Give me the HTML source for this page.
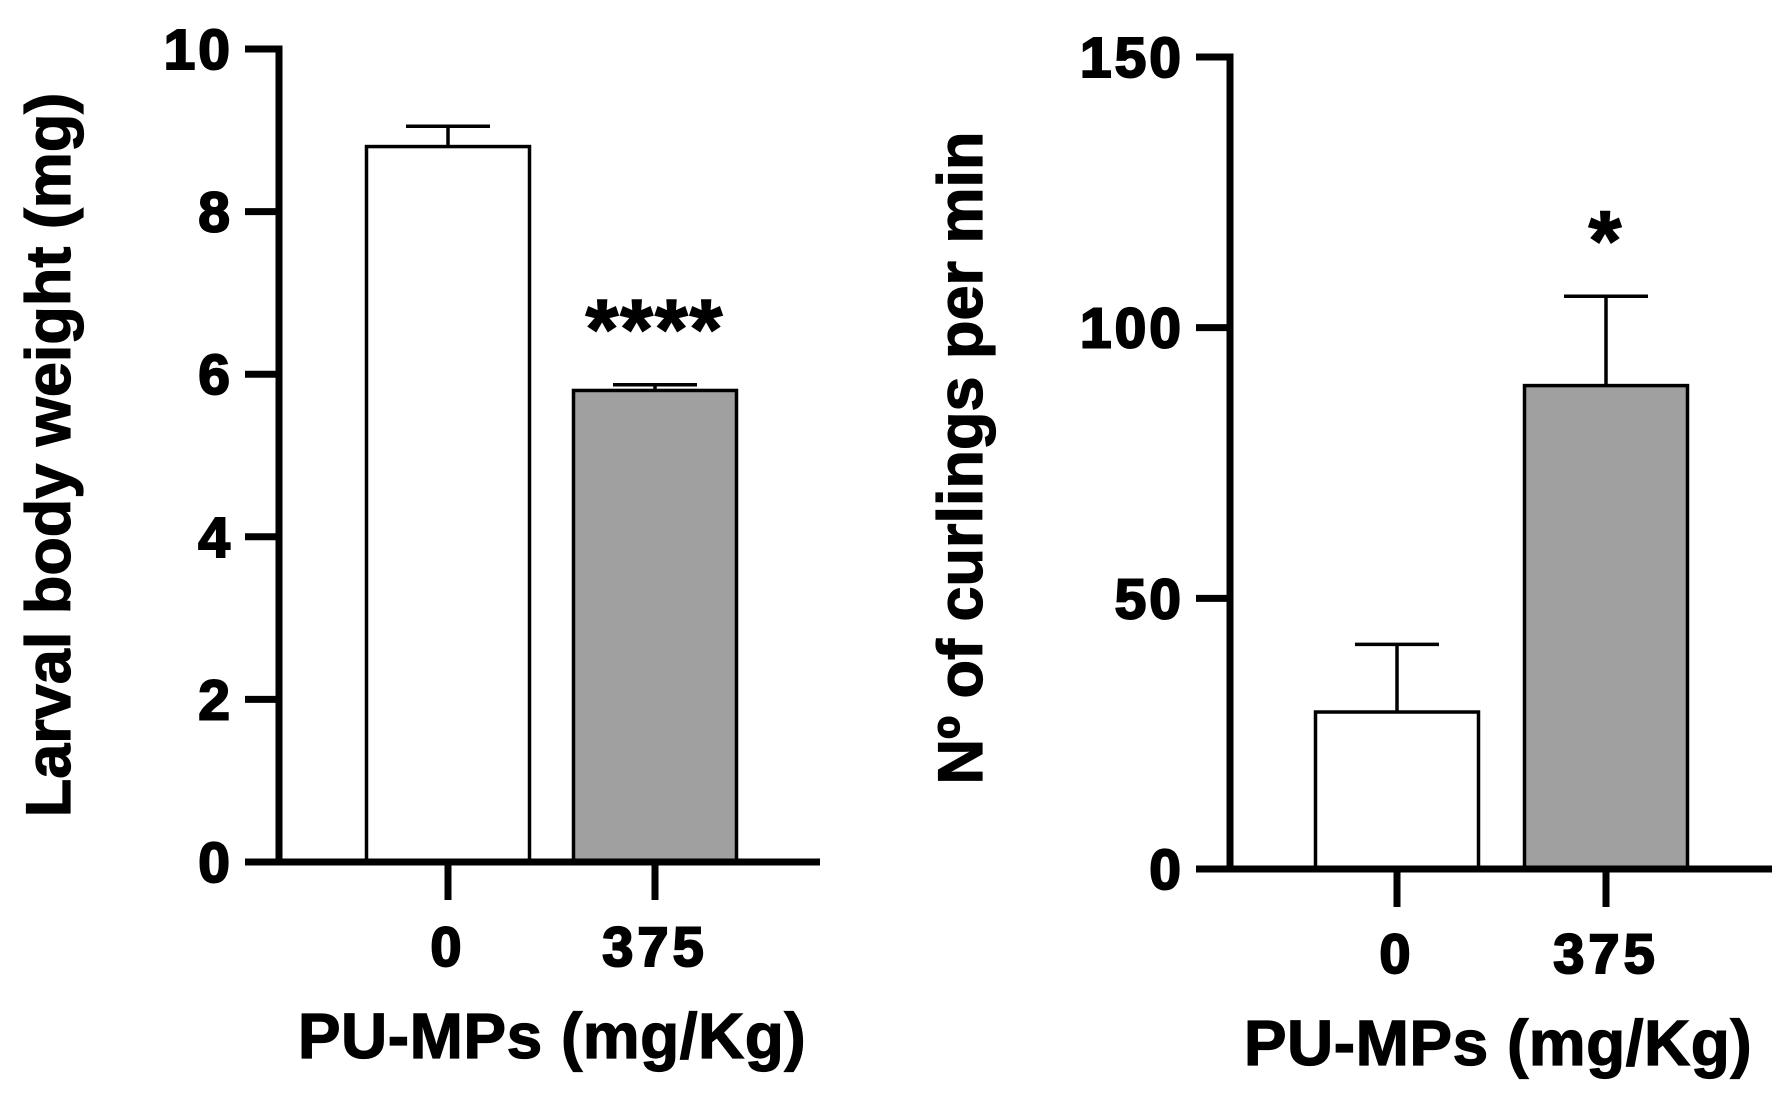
<!DOCTYPE html>
<html><head><meta charset="utf-8"><style>
html,body{margin:0;padding:0;background:#fff;}
svg{display:block;font-family:"Liberation Sans",Arial,sans-serif;font-weight:bold;}
</style></head><body>
<svg id="chart" width="1786" height="1103" viewBox="0 0 1786 1103" xmlns="http://www.w3.org/2000/svg"></svg>
<script>
const categories = ["0", "375"];
const weightValues = [8.8, 5.8];
const weightErrors = [0.25, 0.07];
const weightTicks = [0, 2, 4, 6, 8, 10];
const weightStars = ["", "****"];
const curlValues = [29, 89.3];
const curlErrors = [12.5, 16.5];
const curlTicks = [0, 50, 100, 150];
const curlStars = ["", "*"];

const NS = "http://www.w3.org/2000/svg";
const svg = document.getElementById("chart");
function mk(tag, attrs, parent) {
  const e = document.createElementNS(NS, tag);
  for (const k in attrs) e.setAttribute(k, attrs[k]);
  (parent || svg).appendChild(e);
  return e;
}

function drawPanel(cfg) {
  const g = mk("g", {});
  
  
  const y = v => cfg.y0 - (v - cfg.min) / (cfg.max - cfg.min) * (cfg.y0 - cfg.y1);
  const fills = ["#ffffff", "#a0a0a0"];
  cfg.values.forEach((v, i) => {
    const cx = cfg.centers[i];
    const top = y(v + cfg.errors[i]);
    const el = mk("line", {x1: cx, x2: cx, y1: top, y2: y(v), stroke: "#000", "stroke-width": 3.5}, g);
    
    
    const cap = mk("line", {x1: cx - 42, x2: cx + 42, y1: top, y2: top, stroke: "#000", "stroke-width": 3.5}, g);
    
    
    const r = mk("rect", {x: cx - cfg.bw / 2, y: y(v), width: cfg.bw, height: cfg.y0 - y(v), fill: fills[i], stroke: "#000", "stroke-width": 3.5}, g);
    
    
    if (cfg.stars[i]) {
      const t = mk("text", {x: cx, y: top - 27, "text-anchor": "middle", "font-size": 84, "letter-spacing": 2, stroke: "#000", "stroke-width": 1.5}, g);
      t.textContent = cfg.stars[i];
      
      
    }
    const tk = mk("line", {x1: cx, x2: cx, y1: cfg.y0, y2: cfg.y0 + 38, stroke: "#000", "stroke-width": 7}, g);
    
    
    const tl = mk("text", {x: cx, y: cfg.y0 + 104, "text-anchor": "middle", "font-size": 56, "letter-spacing": 4, stroke: "#000", "stroke-width": 2}, g);
    tl.textContent = categories[i];
    
    
  });
  const ya = mk("line", {x1: cfg.ax, x2: cfg.ax, y1: cfg.y1 - 3.5, y2: cfg.y0 + 3.5, stroke: "#000", "stroke-width": 7}, g);
  
  
  const xa = mk("line", {x1: cfg.ax - 34, x2: cfg.xEnd, y1: cfg.y0, y2: cfg.y0, stroke: "#000", "stroke-width": 7}, g);
  
  
  cfg.ticks.forEach(t => {
    const ln = mk("line", {x1: cfg.ax - 34, x2: cfg.ax, y1: y(t), y2: y(t), stroke: "#000", "stroke-width": 7}, g);
    
    
    const tx = mk("text", {x: cfg.ax - 46, y: y(t) + 20, "text-anchor": "end", "font-size": 57, "letter-spacing": 3, stroke: "#000", "stroke-width": 2}, g);
    tx.textContent = t;
    
    
  });
  const xt = mk("text", {x: cfg.xtX, y: cfg.y0 + 196, "text-anchor": "middle", "font-size": 64, "letter-spacing": 0.5, stroke: "#000", "stroke-width": 1.2}, g);
  xt.textContent = "PU-MPs (mg/Kg)";
  
  
  const yt = mk("text", {x: 0, y: 0, "text-anchor": "middle", "font-size": 63, stroke: "#000", "stroke-width": 1.2, transform: `translate(${cfg.ytX},${cfg.ytY}) rotate(-90)`}, g);
  yt.textContent = cfg.ytitle;
  
  
}

drawPanel({name: "body-weight-chart", values: weightValues, errors: weightErrors, ticks: weightTicks, stars: weightStars,
  min: 0, max: 10, y0: 862, y1: 49, ax: 279, xEnd: 820, centers: [448, 655], bw: 163,
  xtX: 552, ytX: 70, ytY: 455, ytitle: "Larval body weight (mg)"});
drawPanel({name: "curlings-chart", values: curlValues, errors: curlErrors, ticks: curlTicks, stars: curlStars,
  min: 0, max: 150, y0: 869, y1: 57, ax: 1230, xEnd: 1772, centers: [1397, 1606], bw: 163,
  xtX: 1498, ytX: 982, ytY: 458, ytitle: "N\u00ba of curlings per min"});
</script>
</body></html>
